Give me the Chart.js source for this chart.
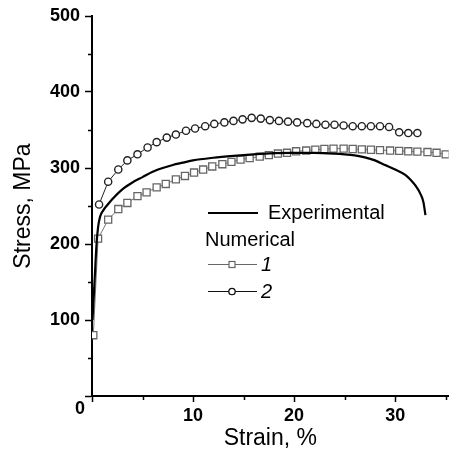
<!DOCTYPE html>
<html><head><meta charset="utf-8">
<script src="https://cdn.jsdelivr.net/npm/chart.js@4.4.1/dist/chart.umd.min.js"></script>
<style>html,body{margin:0;padding:0;background:#fff;overflow:hidden}canvas{display:block}</style>
</head><body>
<canvas id="c" width="455" height="454"></canvas>
<script>
// Experimental curve
const expStrain = [0.05,0.25,0.45,0.6,0.8,1.1,1.5,2,3,4,5,6,7,8,9,10,12,14,16,18,20,22,24,25,26,27,28,29,30,31,31.5,32,32.5,32.8,33.0];
const expStress = [100,150,200,222,236,244,251,259,272,281,288,295,300,304,307,310,313.5,316,318,319.5,320,320,319,318,316.5,314,310,304,298,291,285,277,266,255,238];
// Numerical 1 (squares)
const num1Strain = [0.13,0.6,1.6,2.6,3.5,4.5,5.4,6.4,7.3,8.3,9.2,10.1,11.0,11.9,12.9,13.8,14.7,15.6,16.6,17.5,18.4,19.3,20.2,21.2,22.1,23.0,23.9,24.9,25.8,26.7,27.6,28.5,29.5,30.4,31.3,32.2,33.2,34.1,35.0];
const num1Stress = [80,207,232,246,254,263,268,274.5,279,285,289.5,294,298,302,305,308,311,313,315,317,319,320,322,323,324,325,325.5,325.5,325,324.5,324,323.5,323,322.5,322,321.5,321,320,318];
// Numerical 2 (circles)
const num2Strain = [0.7,1.6,2.6,3.5,4.5,5.5,6.4,7.4,8.3,9.3,10.2,11.2,12.1,13.1,14.0,14.9,15.8,16.7,17.6,18.5,19.4,20.3,21.3,22.2,23.1,24.0,24.9,25.8,26.7,27.6,28.5,29.4,30.4,31.3,32.2];
const num2Stress = [252,282,298,310,318,327,334,340,344,349,352,355,358,360,362,364,366,365,363,362,361,360,359,358,357,357,356,355,355,355,355,354,347,346,346];
// Axis ticks
const xTicks = [0,10,20,30];
const xMinorTicks = [5,15,25,35];
const yTicks = [0,100,200,300,400,500];
const yMinorTicks = [50,150,250,350,450];
const xTitle = 'Strain, %';
const yTitle = 'Stress, MPa';
const legendLabels = ['Experimental','Numerical','1','2'];

const FONT = '"Liberation Sans", Arial, sans-serif';
const pts = (xs, ys) => xs.map((x, i) => ({x, y: ys[i]}));

const extras = {
  id: 'extras',
  afterDraw(chart) {
    const {ctx, scales: {x, y}} = chart;
    ctx.save();
    ctx.strokeStyle = '#000';
    ctx.lineWidth = 1.5;
    // minor ticks
    const x0 = x.getPixelForValue(0), y0 = y.getPixelForValue(0);
    ctx.beginPath();
    yMinorTicks.forEach(v => { const py = Math.round(y.getPixelForValue(v)) + 0.5; ctx.moveTo(x0 - 4, py); ctx.lineTo(x0, py); });
    xMinorTicks.forEach(v => { const px = Math.round(x.getPixelForValue(v)) + 0.5; ctx.moveTo(px, y0); ctx.lineTo(px, y0 + 4); });
    ctx.stroke();
    // origin label
    ctx.fillStyle = '#000';
    ctx.font = 'bold 18px ' + FONT;
    ctx.textAlign = 'center';
    ctx.textBaseline = 'middle';
    ctx.fillText('0', x0 - 12, y0 + 13);
    // legend
    ctx.textAlign = 'left';
    ctx.textBaseline = 'alphabetic';
    ctx.font = '20px ' + FONT;
    ctx.lineWidth = 2;
    ctx.beginPath(); ctx.moveTo(208, 213); ctx.lineTo(258, 213); ctx.stroke();
    ctx.fillText(legendLabels[0], 268, 219);
    ctx.fillText(legendLabels[1], 205, 246);
    // item 1
    ctx.strokeStyle = '#666'; ctx.lineWidth = 1;
    ctx.beginPath(); ctx.moveTo(208, 264.5); ctx.lineTo(257, 264.5); ctx.stroke();
    ctx.fillStyle = '#fff'; ctx.fillRect(229, 261.5, 6, 6);
    ctx.lineWidth = 1.2; ctx.strokeRect(229, 261.5, 6, 6);
    // item 2
    ctx.strokeStyle = '#111'; ctx.lineWidth = 1;
    ctx.beginPath(); ctx.moveTo(208, 291.5); ctx.lineTo(257, 291.5); ctx.stroke();
    ctx.beginPath(); ctx.arc(232, 291.5, 3.2, 0, Math.PI * 2); ctx.fillStyle = '#fff'; ctx.fill(); ctx.lineWidth = 1.3; ctx.stroke();
    ctx.fillStyle = '#000';
    ctx.font = 'italic 20px ' + FONT;
    ctx.fillText(legendLabels[2], 261, 271);
    ctx.fillText(legendLabels[3], 261, 298);
    ctx.restore();
  }
};

new Chart(document.getElementById('c'), {
  type: 'scatter',
  data: {
    datasets: [
      {
        label: 'Experimental',
        data: pts(expStrain, expStress),
        showLine: true,
        borderColor: '#000',
        borderWidth: 2.2,
        pointRadius: 0,
        cubicInterpolationMode: 'monotone',
        fill: false
      },
      {
        label: '1',
        data: pts(num1Strain, num1Stress),
        showLine: true,
        borderColor: '#777',
        borderWidth: 1,
        pointStyle: 'rect',
        pointRadius: 5,
        pointBorderWidth: 1.3,
        pointBorderColor: '#666',
        pointBackgroundColor: '#fff',
        tension: 0
      },
      {
        label: '2',
        data: pts(num2Strain, num2Stress),
        showLine: true,
        borderColor: '#222',
        borderWidth: 1,
        pointStyle: 'circle',
        pointRadius: 3.6,
        pointBorderWidth: 1.4,
        pointBorderColor: '#222',
        pointBackgroundColor: '#fff',
        tension: 0
      }
    ]
  },
  options: {
    responsive: false,
    animation: false,
    events: [],
    layout: {padding: {top: 16, right: 0, left: 0, bottom: 0}},
    plugins: {legend: {display: false}, tooltip: {enabled: false}},
    scales: {
      x: {
        type: 'linear',
        min: 0,
        max: 35.3,
        afterBuildTicks: s => { s.ticks = xTicks.map(v => ({value: v})); },
        afterFit: s => { s.height = 58; },
        ticks: {
          callback: v => (v === 0 ? '' : String(v)),
          color: '#000',
          font: {family: FONT, size: 18, weight: 'bold'},
          padding: 3,
          maxRotation: 0
        },
        grid: {display: true, drawOnChartArea: false, drawTicks: true, tickLength: 6, tickWidth: 1.5, tickColor: '#000'},
        border: {display: true, color: '#000', width: 2},
        title: {display: true, text: xTitle, color: '#000', font: {family: FONT, size: 23, lineHeight: 1}, padding: {top: 0, bottom: 4}}
      },
      y: {
        type: 'linear',
        min: 0,
        max: 500,
        afterBuildTicks: s => { s.ticks = yTicks.map(v => ({value: v})); },
        afterFit: s => { s.width = 92; },
        ticks: {
          callback: v => (v === 0 ? '' : String(v)),
          color: '#000',
          font: {family: FONT, size: 18, weight: 'bold'},
          padding: 5
        },
        grid: {display: true, drawOnChartArea: false, drawTicks: true, tickLength: 7, tickWidth: 1.5, tickColor: '#000'},
        border: {display: true, color: '#000', width: 2},
        title: {display: true, text: yTitle, color: '#000', font: {family: FONT, size: 23, lineHeight: 1}, padding: {top: 12, bottom: 0}}
      }
    }
  },
  plugins: [extras]
});
</script>
</body></html>
